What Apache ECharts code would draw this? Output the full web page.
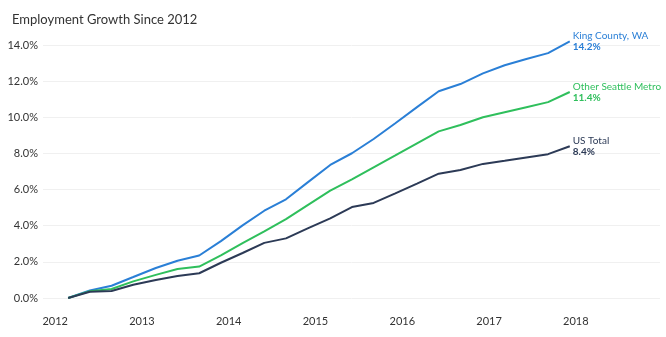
<!DOCTYPE html>
<html>
<head>
<meta charset="utf-8">
<script src="https://cdn.jsdelivr.net/npm/echarts@6/dist/echarts.min.js"></script>
<style>
  html, body { margin: 0; padding: 0; background: #fff; }
  #chart { width: 666px; height: 337px; }
</style>
</head>
<body>
<div id="chart"></div>
<script>
  // quarter positions, decimal years
  var quarters = [2012.15, 2012.40, 2012.65, 2012.90, 2013.16, 2013.41, 2013.66, 2013.91,
    2014.16, 2014.41, 2014.66, 2014.91, 2015.17, 2015.42, 2015.67, 2015.92,
    2016.17, 2016.42, 2016.67, 2016.93, 2017.18, 2017.43, 2017.68, 2017.93];
  var yearTicks = [2012, 2013, 2014, 2015, 2016, 2017, 2018];

  var kingCounty = [0, 0.42, 0.68, 1.16, 1.66, 2.06, 2.35, 3.15, 4.02, 4.83, 5.46, 6.40,
    7.36, 8.01, 8.80, 9.67, 10.56, 11.44, 11.84, 12.43, 12.88, 13.23, 13.55, 14.2];
  var otherSeattle = [0, 0.38, 0.50, 0.92, 1.28, 1.60, 1.74, 2.36, 3.03, 3.69, 4.36, 5.14,
    5.94, 6.57, 7.23, 7.89, 8.56, 9.22, 9.57, 10.00, 10.28, 10.56, 10.84, 11.4];
  var usTotal = [0, 0.35, 0.39, 0.73, 1.00, 1.22, 1.37, 1.95, 2.49, 3.05, 3.30, 3.85,
    4.41, 5.03, 5.26, 5.79, 6.33, 6.88, 7.08, 7.42, 7.59, 7.78, 7.96, 8.4];

  var font = 'Lato, "Noto Sans", sans-serif';

  function pairs(vals) {
    return vals.map(function(v, i) { return [quarters[i], v]; });
  }

  function makeSeries(name, vals, color) {
    return {
      name: name,
      type: 'line',
      data: pairs(vals),
      showSymbol: false,
      clip: false,
      lineStyle: { color: color, width: 2 },
      itemStyle: { color: color },
      endLabel: {
        show: true,
        distance: 3,
        formatter: function(p) {
          return '{n|' + p.seriesName + '}\n{v|' + p.value[1].toFixed(1) + '%}';
        },
        rich: {
          n: { color: color, fontSize: 10, fontFamily: font, lineHeight: 11 },
          v: { color: color, fontSize: 10, fontWeight: 'bold', fontFamily: font, lineHeight: 11 }
        }
      }
    };
  }

  var chart = echarts.init(document.getElementById('chart'));
  chart.setOption({
    animation: false,
    title: {
      text: 'Employment Growth Since 2012',
      left: 7,
      top: 8,
      textStyle: { fontSize: 13, fontWeight: 'normal', color: '#333', fontFamily: font }
    },
    grid: { left: 43, right: 6, top: 45, bottom: 39 },
    xAxis: {
      type: 'value',
      min: 2011.86,
      max: 2018.97,
      axisLine: { show: false },
      axisTick: { show: false },
      splitLine: { show: false },
      axisLabel: {
        customValues: yearTicks,
        margin: 18,
        color: '#333',
        fontSize: 11,
        fontFamily: font,
        formatter: function(v) { return String(Math.round(v)); }
      }
    },
    yAxis: {
      type: 'value',
      min: 0,
      max: 14,
      interval: 2,
      axisLine: { show: false },
      axisTick: { show: false },
      splitLine: { lineStyle: { color: '#f0f0f0', width: 1 } },
      axisLabel: {
        margin: 5,
        color: '#333',
        fontSize: 11,
        fontFamily: font,
        formatter: function(v) { return v.toFixed(1) + '%'; }
      }
    },
    series: [
      makeSeries('King County, WA', kingCounty, '#2a7fd6'),
      makeSeries('Other Seattle Metro', otherSeattle, '#2fbf5c'),
      makeSeries('US Total', usTotal, '#2c3a56')
    ]
  });
</script>
</body>
</html>
